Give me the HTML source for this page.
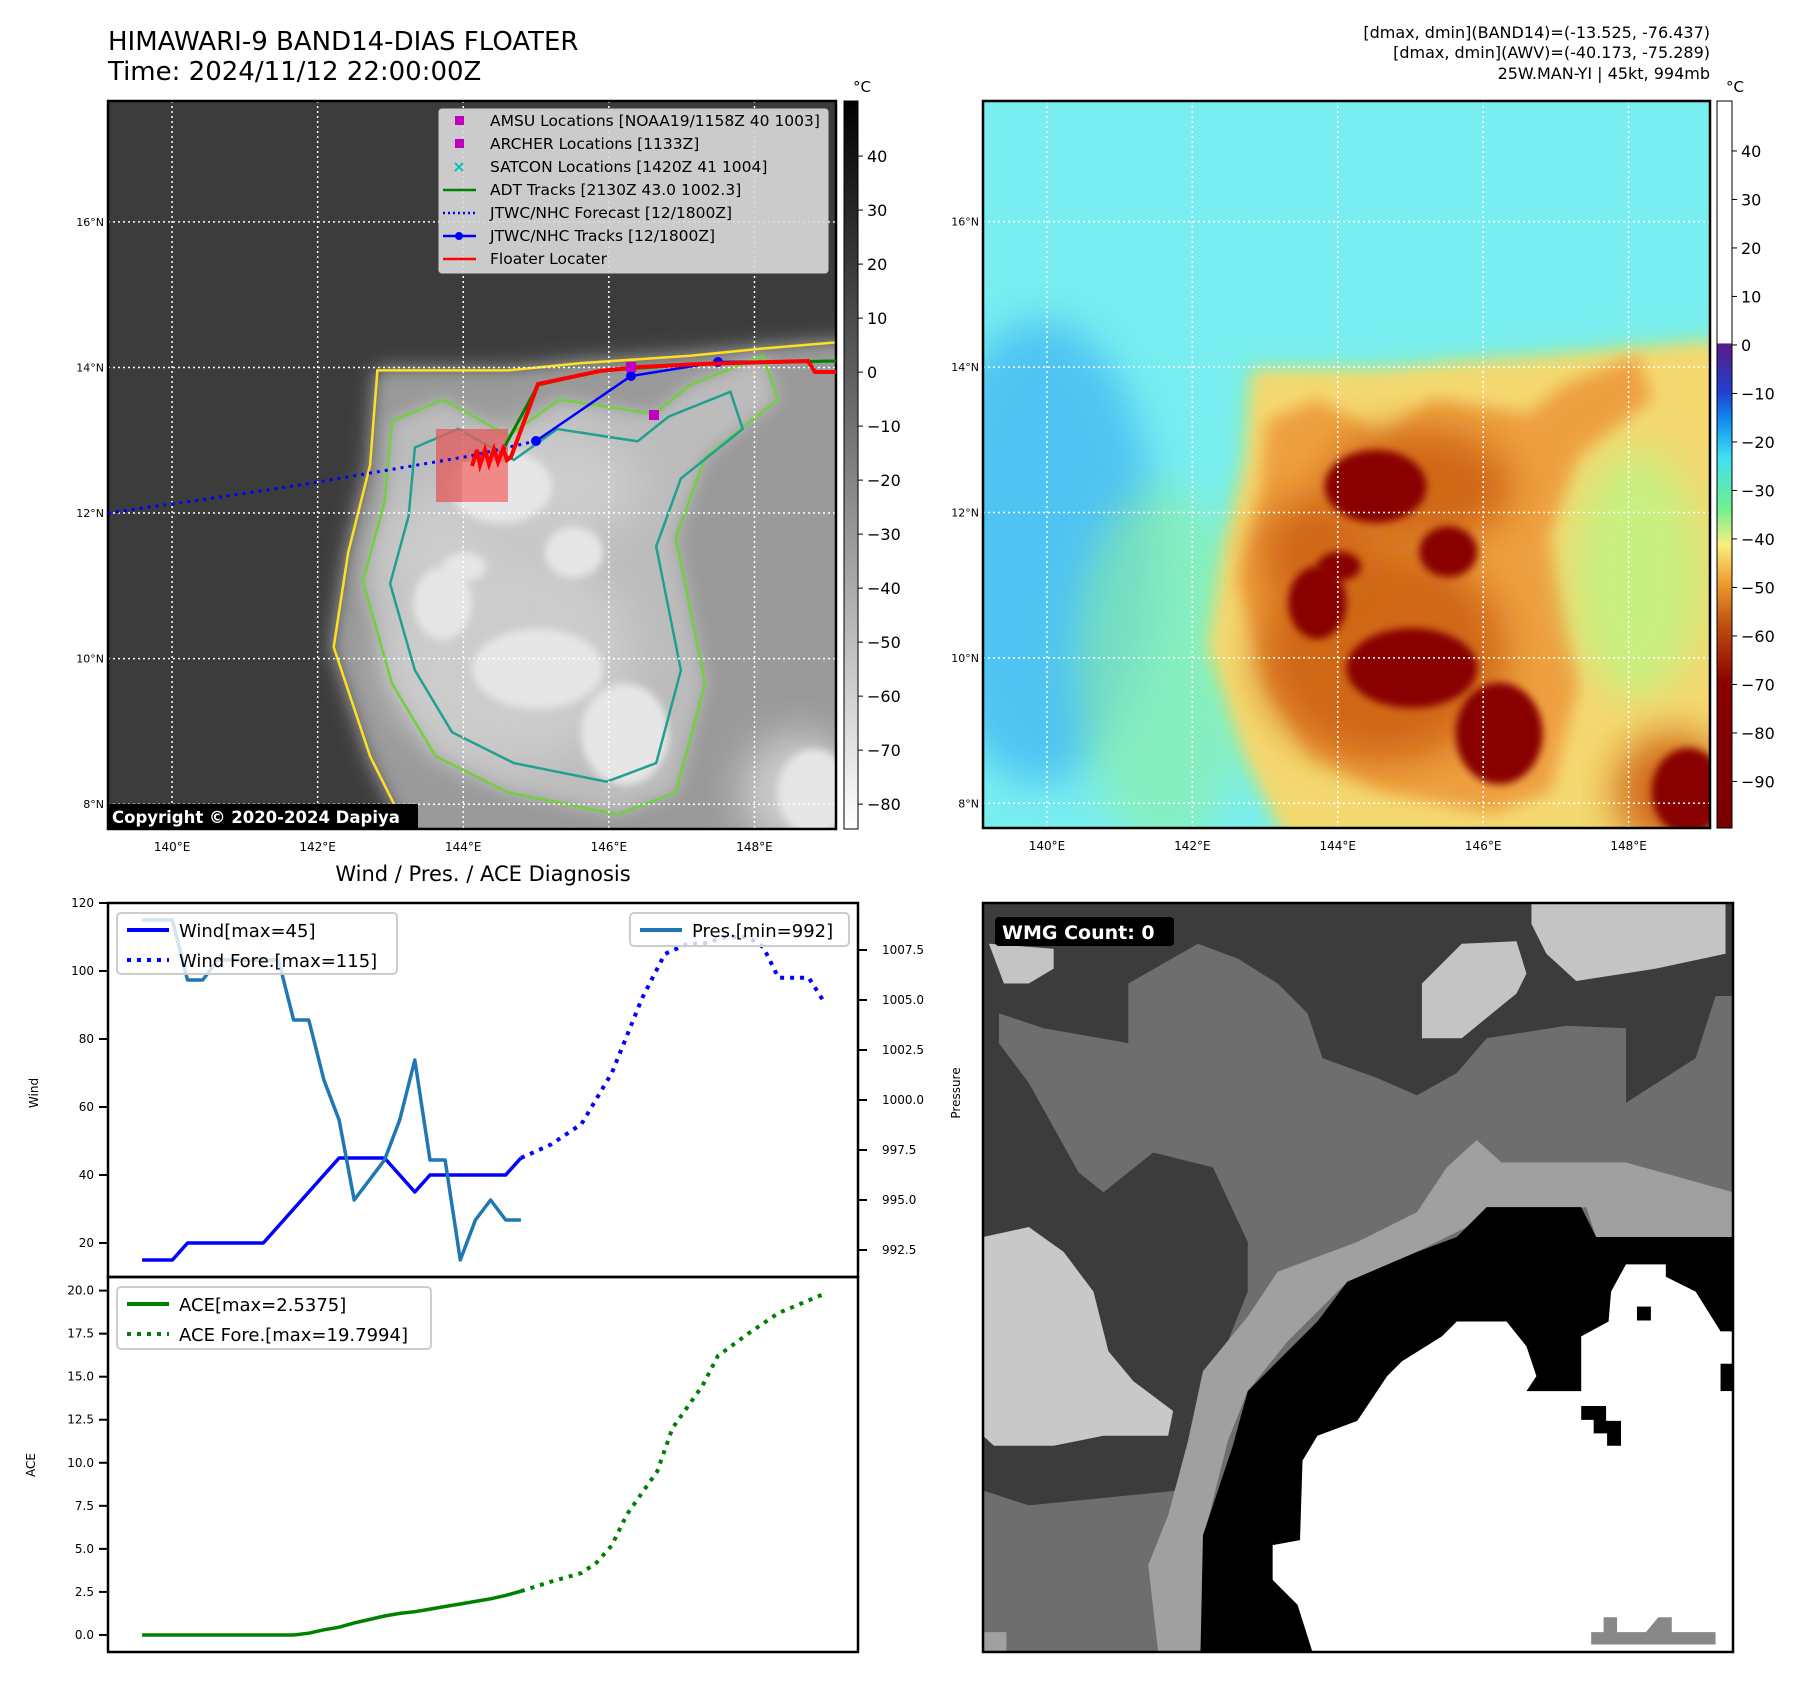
<!DOCTYPE html>
<html><head><meta charset="utf-8"><style>
html,body{margin:0;padding:0;background:#fff}
svg{display:block}
text{font-family:"DejaVu Sans","Liberation Sans",sans-serif}
</style></head><body>
<svg id="fig" width="1801" height="1690" viewBox="0 0 1801 1690" xmlns="http://www.w3.org/2000/svg">
<defs>
 <filter id="b8" x="-20%" y="-20%" width="140%" height="140%"><feGaussianBlur stdDeviation="8"/></filter>
 <filter id="b4" x="-20%" y="-20%" width="140%" height="140%"><feGaussianBlur stdDeviation="4"/></filter>
 <filter id="b14" x="-30%" y="-30%" width="160%" height="160%"><feGaussianBlur stdDeviation="14"/></filter>
 <filter id="b20" x="-30%" y="-30%" width="160%" height="160%"><feGaussianBlur stdDeviation="20"/></filter>
 <clipPath id="clipL"><rect x="108" y="101" width="728" height="728"/></clipPath>
 <clipPath id="clipR"><rect x="983" y="101" width="727" height="727"/></clipPath>
 <linearGradient id="cbGray" x1="0" y1="0" x2="0" y2="1"><stop offset="0" stop-color="#000"/><stop offset="1" stop-color="#fff"/></linearGradient>
 <linearGradient id="cbJet" x1="0" y1="0" x2="0" y2="1">
  <stop offset="0" stop-color="#fff"/><stop offset="0.333" stop-color="#fff"/>
  <stop offset="0.334" stop-color="#5a1a8a"/><stop offset="0.40" stop-color="#2040d0"/>
  <stop offset="0.44" stop-color="#1090f0"/><stop offset="0.49" stop-color="#40e0f0"/>
  <stop offset="0.56" stop-color="#70f090"/><stop offset="0.61" stop-color="#f8f080"/>
  <stop offset="0.66" stop-color="#f0a030"/><stop offset="0.72" stop-color="#c05010"/>
  <stop offset="0.80" stop-color="#8a0000"/><stop offset="1" stop-color="#7a0000"/>
 </linearGradient>
</defs>

<text x="108" y="50" font-size="26" fill="#000">HIMAWARI-9 BAND14-DIAS FLOATER</text>
<text x="108" y="80" font-size="26" fill="#000">Time: 2024/11/12 22:00:00Z</text>
<g font-size="16" text-anchor="end" fill="#000">
 <text x="1710" y="38">[dmax, dmin](BAND14)=(-13.525, -76.437)</text>
 <text x="1710" y="58">[dmax, dmin](AWV)=(-40.173, -75.289)</text>
 <text x="1710" y="79">25W.MAN-YI | 45kt, 994mb</text>
</g>

<g id="mapL" clip-path="url(#clipL)"></g>
<g id="mapR" clip-path="url(#clipR)"></g>
<g id="overlay"></g>

<rect x="844" y="101" width="14" height="728" fill="url(#cbGray)" stroke="#000" stroke-width="1"/>
<rect x="1717" y="101" width="15" height="727" fill="url(#cbJet)" stroke="#000" stroke-width="1"/>
<text x="853" y="92" font-size="15">°C</text>
<text x="1726" y="92" font-size="15">°C</text>
<g id="cbticks"></g>

<g>
<svg x="983" y="903" width="750" height="749" viewBox="8 18 1507 1507" preserveAspectRatio="none">
 <rect x="8" y="18" width="1507" height="1507" fill="#3c3c3c"/>
 <polygon fill="#6e6e6e" points="40,240 130,270 300,300 300,180 440,100 520,130 600,180 660,240 690,330 800,370 880,405 960,360 1020,290 1180,265 1300,270 1300,420 1440,330 1480,205 1515,205 1515,1525 8,1525 8,1200 100,1230 400,1200 440,1080 480,950 540,800 540,700 470,550 350,520 250,600 200,560 150,470 100,380 40,300"/>
 <polygon fill="#c8c8c8" points="8,690 100,670 170,720 230,800 260,920 310,980 390,1040 380,1090 250,1090 150,1110 30,1110 8,1090"/>
 <polygon fill="#c4c4c4" points="1110,20 1500,20 1500,120 1360,150 1200,175 1140,120 1110,60"/>
 <polygon fill="#c4c4c4" points="890,180 970,100 1080,95 1100,160 1080,200 970,290 890,290"/>
 <polygon fill="#c4c4c4" points="20,100 150,110 150,150 100,180 50,180"/>
 <polygon fill="#a0a0a0" points="1515,600 1300,540 1050,540 1000,495 940,550 880,640 760,700 600,760 540,850 450,960 420,1100 380,1250 340,1350 360,1525 450,1525 450,1300 500,1100 540,1000 620,900 740,780 880,720 1000,660 1220,630 1240,690 1460,690 1495,770 1515,770"/>
 <polygon fill="#000" points="1495,690 1240,690 1210,630 1020,630 960,690 880,720 740,780 680,860 600,940 540,1000 510,1110 480,1200 450,1290 445,1525 1515,1525 1515,690"/>
 <polygon fill="#fff" points="670,1525 640,1430 590,1380 590,1310 645,1300 650,1140 680,1090 760,1060 820,970 850,940 930,890 960,860 1060,860 1100,910 1120,970 1100,1000 1210,1000 1210,890 1265,860 1270,800 1300,745 1380,745 1380,770 1440,800 1490,880 1515,880 1515,1525"/>
 <rect x="1322" y="830" width="28" height="28" fill="#000"/>
 <polygon fill="#000" points="1210,1030 1260,1030 1260,1060 1290,1060 1290,1110 1262,1110 1262,1085 1235,1085 1235,1058 1210,1058"/>
 <rect x="1490" y="945" width="25" height="55" fill="#000"/>
 <polygon fill="#888" points="1230,1485 1255,1485 1255,1455 1282,1455 1282,1485 1340,1485 1365,1455 1392,1455 1392,1485 1480,1485 1480,1510 1230,1510"/>
 <polygon fill="#a0a0a0" points="8,1485 55,1485 55,1525 8,1525"/>
</svg>
<rect x="983" y="903" width="750" height="749" fill="none" stroke="#000" stroke-width="2.5"/>
</g>
<rect x="995" y="917" width="179" height="29" rx="4" fill="#000"/>
<text x="1002" y="939" font-size="19" font-weight="bold" fill="#fff">WMG Count: 0</text>

<text x="483" y="881" font-size="21" text-anchor="middle">Wind / Pres. / ACE Diagnosis</text>
<g id="chart"></g>
</svg>

<script>
var windObs = [15,15,15,20,20,20,20,20,20,25,30,35,40,45,45,45,45,40,35,40,40,40,40,40,40,45];
var presObs = [1009,1009,1009,1006,1006,1007,1007,1007,1007,1007,1004,1004,1001,999,995,996,997,999,1002,997,997,992,994,995,994,994];
var windFcstIdx = [25,27,29,31,33,34.5,36,37,38.5,40,41,42,44,45];
var windFcstVal = [45,49,55,70,92,105,108,108,110,110,107,98,98,91];
var aceObs = [0,0,0,0,0,0,0,0,0,0,0,0.1,0.3,0.45,0.7,0.9,1.1,1.25,1.35,1.5,1.65,1.8,1.95,2.1,2.3,2.54];
var aceFcstIdx = [25,27,29,30,31,32,34,35,37,38,40,42,45];
var aceFcstVal = [2.54,3.1,3.6,4.2,5.2,7.0,9.5,12.0,14.5,16.2,17.5,18.7,19.8];
var windTicks = [20,40,60,80,100,120];
var presTicks = [992.5,995.0,997.5,1000.0,1002.5,1005.0,1007.5];
var aceTicks = [0.0,2.5,5.0,7.5,10.0,12.5,15.0,17.5,20.0];
var grayTicks = [40,30,20,10,0,-10,-20,-30,-40,-50,-60,-70,-80];
var jetTicks = [40,30,20,10,0,-10,-20,-30,-40,-50,-60,-70,-80,-90];
var lonTicks = [140,142,144,146,148];
var latTicks = [16,14,12,10,8];

var NS = "http://www.w3.org/2000/svg";
function mk(tag, attrs, parent){var e=document.createElementNS(NS,tag);for(var k in attrs)e.setAttribute(k,attrs[k]);parent.appendChild(e);return e;}
function txt(x,y,s,size,anchor,parent){var t=mk('text',{x:x,y:y,'font-size':size,'text-anchor':anchor||'start'},parent);t.textContent=s;return t;}

var AX0=108, AX1=858, WY0=903, WY1=1277, AY1=1652;
function xPx(i){return AX0+(i+2.25)*(AX1-AX0)/49.5;}
function wY(w){return WY0+(120-w)*(WY1-WY0)/110;}
function pY(p){return WY0+(1009.85-p)*(WY1-WY0)/18.7;}
function aY(a){return WY1+(20.79-a)*(AY1-WY1)/21.78;}
var chart=document.getElementById('chart');

function poly(xs,ys,attrs,name){
  var pts=[];for(var i=0;i<xs.length;i++)pts.push(xs[i].toFixed(1)+','+ys[i].toFixed(1));
  attrs.points=pts.join(' ');attrs.fill='none';
  var e=mk('polyline',attrs,chart);
  
  
  return e;
}
var idxObs=windObs.map(function(_,i){return i;});
poly(idxObs.map(xPx), windObs.map(wY), {stroke:'#0000ff','stroke-width':3.5,'stroke-linejoin':'round'}, 'wind-line');
poly(windFcstIdx.map(xPx), windFcstVal.map(wY), {stroke:'#0000ff','stroke-width':4,'stroke-dasharray':'4 6'}, 'wind-forecast-line');
poly(idxObs.map(xPx), presObs.map(pY), {stroke:'#1f77b4','stroke-width':3.5,'stroke-linejoin':'round'}, 'pressure-line');
poly(idxObs.map(xPx), aceObs.map(aY), {stroke:'#008000','stroke-width':3.5}, 'ace-line');
poly(aceFcstIdx.map(xPx), aceFcstVal.map(aY), {stroke:'#008000','stroke-width':4,'stroke-dasharray':'4 6'}, 'ace-forecast-line');

var f1=mk('rect',{x:AX0,y:WY0,width:AX1-AX0,height:WY1-WY0,fill:'none',stroke:'#000','stroke-width':2.5},chart);


var f2=mk('rect',{x:AX0,y:WY1,width:AX1-AX0,height:AY1-WY1,fill:'none',stroke:'#000','stroke-width':2.5},chart);



windTicks.forEach(function(v){
  var y=wY(v);
  mk('line',{x1:AX0-9,x2:AX0,y1:y,y2:y,stroke:'#000','stroke-width':2},chart);
  var t=txt(AX0-14,y+4,String(v),12,'end',chart);
  
  
});
presTicks.forEach(function(v){
  var y=pY(v);
  mk('line',{x1:AX1,x2:AX1+9,y1:y,y2:y,stroke:'#000','stroke-width':2},chart);
  var t=txt(AX1+24,y+4,v.toFixed(1),12,'start',chart);
  
  
});
aceTicks.forEach(function(v){
  var y=aY(v);
  mk('line',{x1:AX0-9,x2:AX0,y1:y,y2:y,stroke:'#000','stroke-width':2},chart);
  var t=txt(AX0-14,y+4,v.toFixed(1),12,'end',chart);
  
  
});
var yl1=txt(0,0,'Wind',12,'middle',chart);yl1.setAttribute('transform','translate(38,1093) rotate(-90)');


var yl2=txt(0,0,'Pressure',12,'middle',chart);yl2.setAttribute('transform','translate(960,1093) rotate(-90)');


var yl3=txt(0,0,'ACE',12,'middle',chart);yl3.setAttribute('transform','translate(35,1465) rotate(-90)');



function legend(x,y,w,h,items,name){
  var g=mk('g',{},chart);
  
  
  mk('rect',{x:x,y:y,width:w,height:h,rx:4,fill:'rgba(255,255,255,0.8)',stroke:'#ccc','stroke-width':2},g);
  items.forEach(function(it,i){
    var yy=y+17+i*30;
    var a={x1:x+10,x2:x+52,y1:yy,y2:yy,stroke:it.c,'stroke-width':4};
    if(it.d)a['stroke-dasharray']='4 6';
    mk('line',a,g);
    txt(x+62,yy+7,it.t,18,'start',g);
  });
}
legend(117,913,280,61,[{c:'#0000ff',t:'Wind[max=45]'},{c:'#0000ff',t:'Wind Fore.[max=115]',d:1}],'wind-legend');
legend(630,913,219,33,[{c:'#1f77b4',t:'Pres.[min=992]'}],'pressure-legend');
legend(117,1287,314,62,[{c:'#008000',t:'ACE[max=2.5375]'},{c:'#008000',t:'ACE Fore.[max=19.7994]',d:1}],'ace-legend');

// ---------- maps ----------
var OUTER=[[0.37,0.37],[0.45,0.37],[0.55,0.37],[0.65,0.36],[0.80,0.35],[0.90,0.34],[1.02,0.33],[1.02,1.02],[0.42,1.02],[0.36,0.90],[0.31,0.75],[0.33,0.62],[0.36,0.50]];
var INNER=[[0.39,0.44],[0.46,0.41],[0.55,0.46],[0.62,0.41],[0.75,0.43],[0.80,0.39],[0.90,0.35],[0.92,0.41],[0.82,0.49],[0.78,0.60],[0.82,0.80],[0.78,0.95],[0.70,0.98],[0.55,0.95],[0.45,0.90],[0.39,0.80],[0.35,0.66],[0.38,0.55]];
var MID=[[0.55,0.76,0.17,0.15],[0.60,0.53,0.13,0.08],[0.95,0.95,0.08,0.08],[0.46,0.62,0.08,0.08]];
var CORES=[[0.54,0.53,0.07,0.05],[0.64,0.62,0.04,0.035],[0.46,0.69,0.04,0.05],[0.59,0.78,0.09,0.055],[0.71,0.87,0.06,0.07],[0.97,0.95,0.05,0.06],[0.49,0.64,0.03,0.02]];
function drawMap(g,x0,y0,W,pal,contours){
  function P(arr){return arr.map(function(p){return (x0+p[0]*W).toFixed(1)+','+(y0+p[1]*W).toFixed(1);}).join(' ');}
  mk('rect',{x:x0,y:y0,width:W,height:W,fill:pal.bg},g);
  if(pal.left)mk('ellipse',{cx:x0+0.08*W,cy:y0+0.62*W,rx:0.16*W,ry:0.32*W,fill:pal.left,filter:'url(#b20)'},g);
  if(pal.lband)mk('ellipse',{cx:x0+0.25*W,cy:y0+0.78*W,rx:0.12*W,ry:0.25*W,fill:pal.lband,'fill-opacity':0.6,filter:'url(#b20)'},g);
  mk('polygon',{points:P(OUTER),fill:pal.halo,filter:'url(#b14)'},g);
  mk('polygon',{points:P(OUTER),fill:pal.yel,filter:'url(#b8)'},g);
  mk('polygon',{points:P(INNER),fill:pal.ora,filter:'url(#b8)'},g);
  if(pal.right)mk('ellipse',{cx:x0+0.9*W,cy:y0+0.65*W,rx:0.09*W,ry:0.17*W,fill:pal.right,filter:'url(#b20)'},g);
  MID.forEach(function(c){mk('ellipse',{cx:x0+c[0]*W,cy:y0+c[1]*W,rx:c[2]*W,ry:c[3]*W,fill:pal.mid,filter:'url(#b20)'},g);});
  CORES.forEach(function(c){mk('ellipse',{cx:x0+c[0]*W,cy:y0+c[1]*W,rx:c[2]*W,ry:c[3]*W,fill:pal.core,filter:'url(#b4)'},g);});
  if(contours){
    mk('polygon',{points:P(OUTER),fill:'none',stroke:'#ffe020','stroke-width':2.5},g);
    mk('polygon',{points:P(INNER),fill:'none',stroke:'#70d040','stroke-width':2.5},g);
    mk('polygon',{points:P(INNER.map(function(p){return [0.6+(p[0]-0.6)*0.85,0.68+(p[1]-0.68)*0.85];})),fill:'none',stroke:'#20a090','stroke-width':2.5},g);
  }
  lonTicks.forEach(function(lon){var x=x0+(lon-139.12)/10*W;mk('line',{x1:x,x2:x,y1:y0,y2:y0+W,stroke:'#fff','stroke-width':1.5,'stroke-dasharray':'2 3'},g);});
  latTicks.forEach(function(lat){var y=y0+(17.66-lat)/10*W;mk('line',{x1:x0,x2:x0+W,y1:y,y2:y,stroke:'#fff','stroke-width':1.5,'stroke-dasharray':'2 3'},g);});
}
drawMap(document.getElementById('mapL'),108,101,728,{bg:'#3c3c3c',halo:'#707070',yel:'#9a9a9a',ora:'#bcbcbc',mid:'#cccccc',core:'#e6e6e6'},true);
drawMap(document.getElementById('mapR'),983,101,727,{bg:'#78eef0',left:'#50c4f2',lband:'#90f0a0',right:'#c8f080',halo:'#90f0a0',yel:'#f4d870',ora:'#eea040',mid:'#d06818',core:'#880000'},false);

var ov=document.getElementById('overlay');
function frame(x,y,w,h,name){var r=mk('rect',{x:x,y:y,width:w,height:h,fill:'none',stroke:'#000','stroke-width':2.5},ov);
  
  }
frame(108,101,728,728,'band14-map-frame');
frame(983,101,727,727,'awv-map-frame');
function mapLabels(x0,y0,W){
  lonTicks.forEach(function(lon){var x=x0+(lon-139.12)/10*W;var t=txt(x,y0+W+22,lon+'°E',12,'middle',ov);
    
    });
  latTicks.forEach(function(lat){var y=y0+(17.66-lat)/10*W;var t=txt(x0-4,y+4,lat+'°N',11,'end',ov);
    
    });
}
mapLabels(108,101,728);mapLabels(983,101,727);

var tr=mk('g',{'clip-path':'url(#clipL)'},ov);


mk('rect',{x:436,y:429,width:72,height:73,fill:'#e06060','fill-opacity':0.8},tr);
mk('rect',{x:462,y:462,width:46,height:40,fill:'#f08a8a'},tr);
mk('polyline',{points:'108,513 200,500 300,485 400,468 470,456 536,441',fill:'none',stroke:'#0000ff','stroke-width':3,'stroke-dasharray':'3 5'},tr);
mk('polyline',{points:'536,441 631,376 718,362 838,361',fill:'none',stroke:'#0000ff','stroke-width':2.5},tr);
[[536,441],[631,376],[718,362]].forEach(function(p){mk('circle',{cx:p[0],cy:p[1],r:5,fill:'#0000ff'},tr);});
mk('polyline',{points:'505,446 538,385 600,371 640,368 700,364 838,361',fill:'none',stroke:'#008000','stroke-width':3},tr);
mk('polyline',{points:'472,466 477,450 480,465 485,450 489,464 494,449 498,462 503,449 507,460 511,457 538,384 600,371 640,367 700,364 808,361 815,372 838,372',fill:'none',stroke:'#ff0000','stroke-width':4},tr);
mk('rect',{x:626,y:362,width:10,height:10,fill:'#c000c0'},tr);
mk('rect',{x:649,y:410,width:10,height:10,fill:'#c000c0'},tr);

var lg=mk('g',{},ov);


mk('rect',{x:439,y:109,width:389,height:164,rx:3,fill:'#d8d8d8','fill-opacity':0.92,stroke:'#ccc'},lg);
var LI=[['sq','#c000c0','AMSU Locations [NOAA19/1158Z 40 1003]'],['sq','#c000c0','ARCHER Locations [1133Z]'],['x','#00c0c0','SATCON Locations [1420Z 41 1004]'],['ln','#008000','ADT Tracks [2130Z 43.0 1002.3]'],['dot','#0000ff','JTWC/NHC Forecast [12/1800Z]'],['mk','#0000ff','JTWC/NHC Tracks [12/1800Z]'],['ln','#ff0000','Floater Locater']];
LI.forEach(function(it,i){
  var y=121+i*23;
  if(it[0]=='sq')mk('rect',{x:455,y:y-5,width:9,height:9,fill:it[1]},lg);
  else if(it[0]=='x'){var xt=txt(459,y+5,'×',16,'middle',lg);xt.setAttribute('fill',it[1]);xt.setAttribute('font-weight','bold');}
  else{var a={x1:443,x2:476,y1:y,y2:y,stroke:it[1],'stroke-width':2.5};if(it[0]=='dot')a['stroke-dasharray']='2 3';mk('line',a,lg);
    if(it[0]=='mk')mk('circle',{cx:459,cy:y,r:4,fill:it[1]},lg);}
  txt(490,y+5,it[2],15.5,'start',lg);
});
mk('rect',{x:108,y:804,width:310,height:25,fill:'#000'},ov);
var cp=txt(112,823,'Copyright © 2020-2024 Dapiya',16.5,'start',ov);
cp.setAttribute('fill','#fff');cp.setAttribute('font-weight','bold');



var cbt=document.getElementById('cbticks');
grayTicks.forEach(function(v){var y=101+(50.2-v)*728/134.8;mk('line',{x1:858,x2:863,y1:y,y2:y,stroke:'#000'},cbt);
  var t=txt(867,y+6,(v<0?'\u2212'+(-v):String(v)),16,'start',cbt);
  
  });
jetTicks.forEach(function(v){var y=101+(50.3-v)*727/149.9;mk('line',{x1:1732,x2:1737,y1:y,y2:y,stroke:'#000'},cbt);
  var t=txt(1741,y+6,(v<0?'\u2212'+(-v):String(v)),16,'start',cbt);
  
  });
</script>
</body></html>
